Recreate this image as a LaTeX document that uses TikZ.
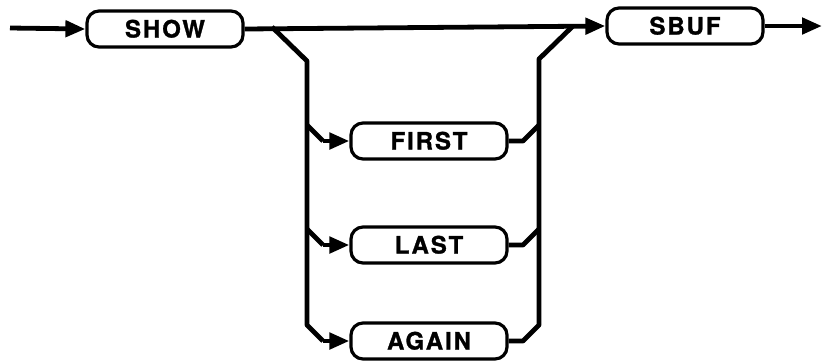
\documentclass[tikz,border=0pt]{standalone}
\usepackage{fontspec}
\setmainfont{TeX Gyre Heros}[LetterSpace=8, BoldFeatures={FakeBold=1.2}]
\usepackage{tikz}
\usetikzlibrary{positioning,arrows.meta,calc}

\begin{document}
\begin{tikzpicture}[
    x=1pt, y=-1pt,
    kwbox/.style={rectangle, draw, line width=3.2pt, rounded corners=12pt, minimum width=156pt, minimum height=36pt, inner sep=0pt, text height=17pt, text depth=0pt, font=\fontsize{24}{29}\selectfont\bfseries},
    path/.style={line width=4.8pt, line join=round},
    arrow/.style={path, -{Triangle[length=20pt,width=16pt]}}
]
\useasboundingbox (0,0) rectangle (822,360);

% Main line
\coordinate (start) at (10,28);
\node[kwbox] (show) at (165,29) {SHOW};
\node[kwbox] (sbuf) at (685,26) {SBUF};
\coordinate (finish) at (822,26);

% Options
\node[kwbox] (first) at (429,141) {FIRST};
\node[kwbox] (last) at (429,245) {LAST};
\node[kwbox] (again) at (429,341) {AGAIN};

% Split points
\coordinate (lsplit) at (272,27);
\coordinate (ltop) at (307,61);
\coordinate (rsplit) at (573,26);
\coordinate (rtop) at (539,59);

% Arrows - main line
\draw[arrow] (start) -- (show.west);
\draw[arrow] (show.east) -- (sbuf.west);
\draw[arrow] (sbuf.east) -- (finish);

% Left branch
\draw[path] (lsplit) -- (ltop) -- (307,325) -- (323,341);
\draw[arrow] (323,341) -- (again.west);
\draw[path] (307,125) -- (323,141);
\draw[arrow] (323,141) -- (first.west);
\draw[path] (307,229) -- (323,245);
\draw[arrow] (323,245) -- (last.west);

% Right branch
\draw[path] (rsplit) -- (rtop) -- (539,325) -- (523,341) -- (again.east);
\draw[path] (first.east) -- (523,141) -- (539,125);
\draw[path] (last.east) -- (523,245) -- (539,229);

\end{tikzpicture}
\end{document}
